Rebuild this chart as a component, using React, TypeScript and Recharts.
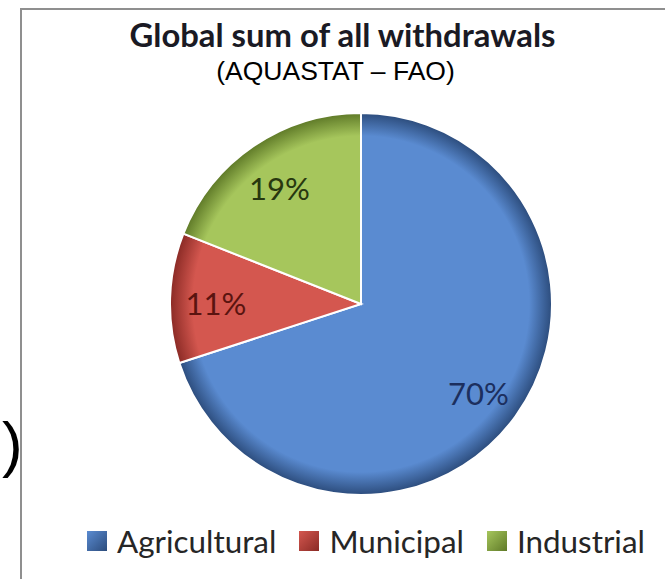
import React from "react";
import { PieChart, Pie, Cell, Legend } from "recharts";

// -------------------------------
// Data
// -------------------------------
const categories = ["Agricultural", "Municipal", "Industrial"];
const shares = [70, 11, 19];
const sliceColors = ["#5a8bd1", "#d4574f", "#a6c65c"];
const rimColors = ["#2c4c7c", "#8a2a25", "#5f7a28"];
const labelColors = ["#1c2f5e", "#5a1410", "#28380f"];

const data = categories.map((name, i) => ({ name, value: shares[i] }));

const RAD = Math.PI / 180;
const CX = 361;
const CY = 304;
const R = 191;

const renderLabel = (props: any) => {
  const { cx, cy, midAngle, outerRadius, value, index } = props;
  const r = outerRadius * 0.76;
  const x = cx + r * Math.cos(-midAngle * RAD);
  const y = cy + r * Math.sin(-midAngle * RAD);
  return (
    <text
      x={x}
      y={y + 4}
      fill={labelColors[index]}
      textAnchor="middle"
      dominantBaseline="central"
      style={{ fontFamily: "Lato, sans-serif", fontSize: 31 }}
    >
      {`${value}%`}
    </text>
  );
};

// legend keeps the slice order (recharts would sort it by name)
const renderLegend = () => (
  <div style={{ display: "flex", alignItems: "center", paddingLeft: 87 }}>
    {categories.map((name, i) => (
      <div
        key={name}
        style={{ display: "flex", alignItems: "center", marginRight: 23 }}
      >
        <span
          style={{
            width: 20,
            height: 20,
            background: `linear-gradient(135deg, ${sliceColors[i]}, ${rimColors[i]})`,
            marginRight: 10,
            display: "inline-block",
          }}
        />
        <span
          style={{
            fontFamily: "Lato, sans-serif",
            fontSize: 31.4,
            color: "#262626",
            lineHeight: "34px",
          }}
        >
          {name}
        </span>
      </div>
    ))}
  </div>
);

export default function App() {
  return (
    <div
      style={{
        position: "absolute",
        left: 0,
        top: 0,
        width: 665,
        height: 579,
        overflow: "hidden",
        background: "#fff",
      }}
    >
      {/* gradients for the bevelled look */}
      <svg width={0} height={0} style={{ position: "absolute" }}>
        <defs>
          {sliceColors.map((c, i) => (
            <radialGradient
              key={c}
              id={`slice${i}`}
              gradientUnits="userSpaceOnUse"
              cx={CX}
              cy={CY}
              r={R}
            >
              <stop offset="0" stopColor={c} />
              <stop offset="0.88" stopColor={c} />
              <stop offset="1" stopColor={rimColors[i]} />
            </radialGradient>
          ))}
        </defs>
      </svg>

      {/* stray text fragment from the slide */}
      <div
        style={{
          position: "absolute",
          left: 2,
          top: 410,
          fontFamily: "'Liberation Sans', Arial, sans-serif",
          fontSize: 62,
          color: "#000",
          lineHeight: "68px",
        }}
      >
        )
      </div>

      {/* chart frame */}
      <div
        style={{
          position: "absolute",
          left: 20,
          top: 8,
          width: 660,
          height: 600,
          borderLeft: "2px solid #8f8f8f",
          borderTop: "2px solid #8f8f8f",
          background: "#fff",
        }}
      />

      <div
        style={{
          position: "absolute",
          left: 20,
          width: 645,
          top: 15,
          textAlign: "center",
          fontFamily: "Lato, sans-serif",
          fontWeight: 700,
          fontSize: 32.8,
          color: "#1a1a24",
          lineHeight: "40px",
        }}
      >
        Global sum of all withdrawals
      </div>
      <div
        style={{
          position: "absolute",
          left: 0,
          width: 671,
          top: 56,
          textAlign: "center",
          fontFamily: "'Liberation Sans', Arial, sans-serif",
          fontSize: 26.5,
          color: "#000",
          lineHeight: "31px",
        }}
      >
        (AQUASTAT – FAO)
      </div>

      <div style={{ position: "absolute", left: 0, top: 0 }}>
        <PieChart
          width={665}
          height={579}
          margin={{ top: 0, right: 0, bottom: 0, left: 0 }}
        >
          <Pie
            data={data}
            dataKey="value"
            nameKey="name"
            cx={CX}
            cy={CY}
            outerRadius={R}
            startAngle={90}
            endAngle={-270}
            stroke="#ffffff"
            strokeWidth={2}
            label={renderLabel}
            labelLine={false}
            isAnimationActive={false}
          >
            {data.map((d, i) => (
              <Cell key={d.name} fill={`url(#slice${i})`} />
            ))}
          </Pie>
          <Legend
            content={renderLegend}
            layout="horizontal"
            verticalAlign="bottom"
            align="left"
            wrapperStyle={{ left: 0, top: 524, width: 665 }}
          />
        </PieChart>
      </div>
    </div>
  );
}
